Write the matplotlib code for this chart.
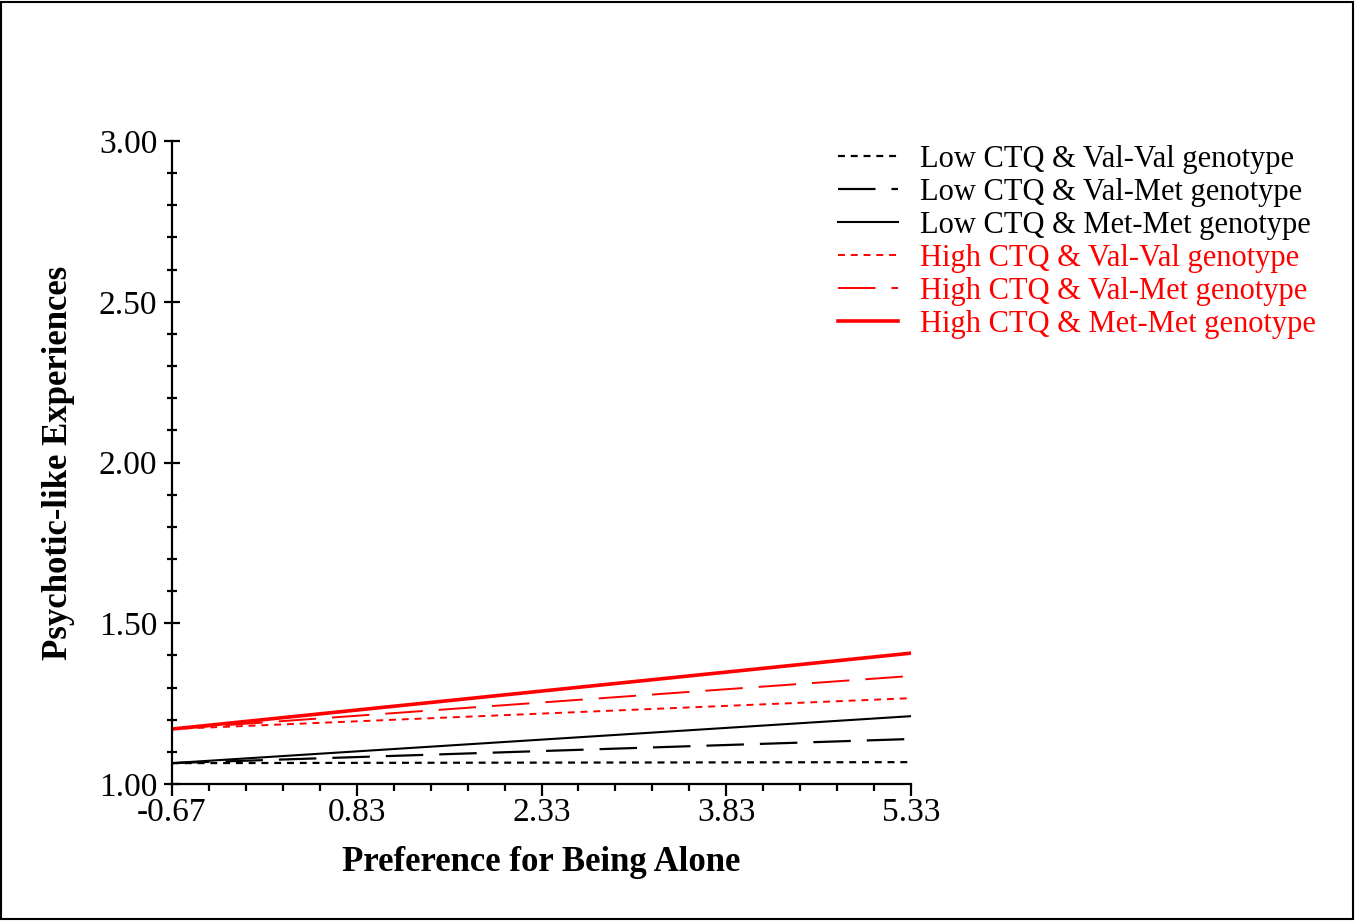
import matplotlib
matplotlib.use("Agg")
import matplotlib.pyplot as plt
import numpy as np
from matplotlib.ticker import FixedLocator, MultipleLocator
from matplotlib.patches import Rectangle

plt.rcParams['font.family'] = ['Liberation Serif', 'DejaVu Serif']
plt.rcParams['lines.scale_dashes'] = False

x_range = [-0.67, 5.33]
series_labels = [
    "Low CTQ & Val-Val genotype",
    "Low CTQ & Val-Met genotype",
    "Low CTQ & Met-Met genotype",
    "High CTQ & Val-Val genotype",
    "High CTQ & Val-Met genotype",
    "High CTQ & Met-Met genotype",
]
y_start = [1.065, 1.065, 1.065, 1.171, 1.171, 1.171]
y_end = [1.068, 1.140, 1.211, 1.267, 1.336, 1.407]
x_ticks = [-0.67, 0.83, 2.33, 3.83, 5.33]
y_ticks = [1.00, 1.50, 2.00, 2.50, 3.00]

colors = ['black', 'black', 'black', 'red', 'red', 'red']
widths = [1.6, 1.6, 1.5, 1.4, 1.4, 2.6]
dashes = [(5, 4.2), (27, 11.5), None, (5, 4.2), (27, 11.5), None]

fig = plt.figure(figsize=(13.56, 9.21), dpi=100)
ax = fig.add_axes([172/1356, 1-784/921, (911-172)/1356, (784-141)/921])

for lab, y0, y1, c, w, d in zip(series_labels, y_start, y_end, colors, widths, dashes):
    line, = ax.plot(x_range, [y0, y1], color=c, lw=w, label=lab)
    if d is not None:
        line.set_dashes(d)

ax.set_xlim(x_range)
ax.set_ylim(1.0, 3.0)
ax.xaxis.set_major_locator(FixedLocator(x_ticks))
ax.xaxis.set_minor_locator(FixedLocator(np.arange(-0.67, 5.34, 0.3)))
ax.yaxis.set_major_locator(FixedLocator(y_ticks))
ax.yaxis.set_minor_locator(MultipleLocator(0.1))
ax.set_xticklabels([f"{v:.2f}" for v in x_ticks])
ax.set_yticklabels([f"{v:.2f}" for v in y_ticks])

for s in ['top', 'right']:
    ax.spines[s].set_visible(False)
for s in ['left', 'bottom']:
    ax.spines[s].set_linewidth(1.6)

ax.tick_params(axis='x', which='major', direction='out', length=8.5, width=1.6, labelsize=24, pad=1)
ax.tick_params(axis='x', which='minor', direction='out', length=5, width=1.6)
ax.tick_params(axis='y', which='major', direction='inout', length=11, width=1.6, labelsize=24, pad=5)
ax.tick_params(axis='y', which='minor', direction='inout', length=7, width=1.6)

ax.set_xlabel("Preference for Being Alone", fontsize=25, fontweight='bold', labelpad=13)
ax.set_ylabel("Psychotic-like Experiences", fontsize=25, fontweight='bold', labelpad=17)

leg = fig.legend(loc='upper left', bbox_to_anchor=(838/1356, 1-145/921), frameon=False,
                 fontsize=22, handlelength=1.96, handletextpad=0.72, labelspacing=0.13,
                 borderaxespad=0, borderpad=0)
for t, c in zip(leg.get_texts(), colors):
    t.set_color(c)

fig.patches.append(Rectangle((0.001, 0.002), 0.997, 0.996, transform=fig.transFigure,
                             fill=False, edgecolor='black', lw=1.5))

fig.savefig("out.png", dpi=100)
